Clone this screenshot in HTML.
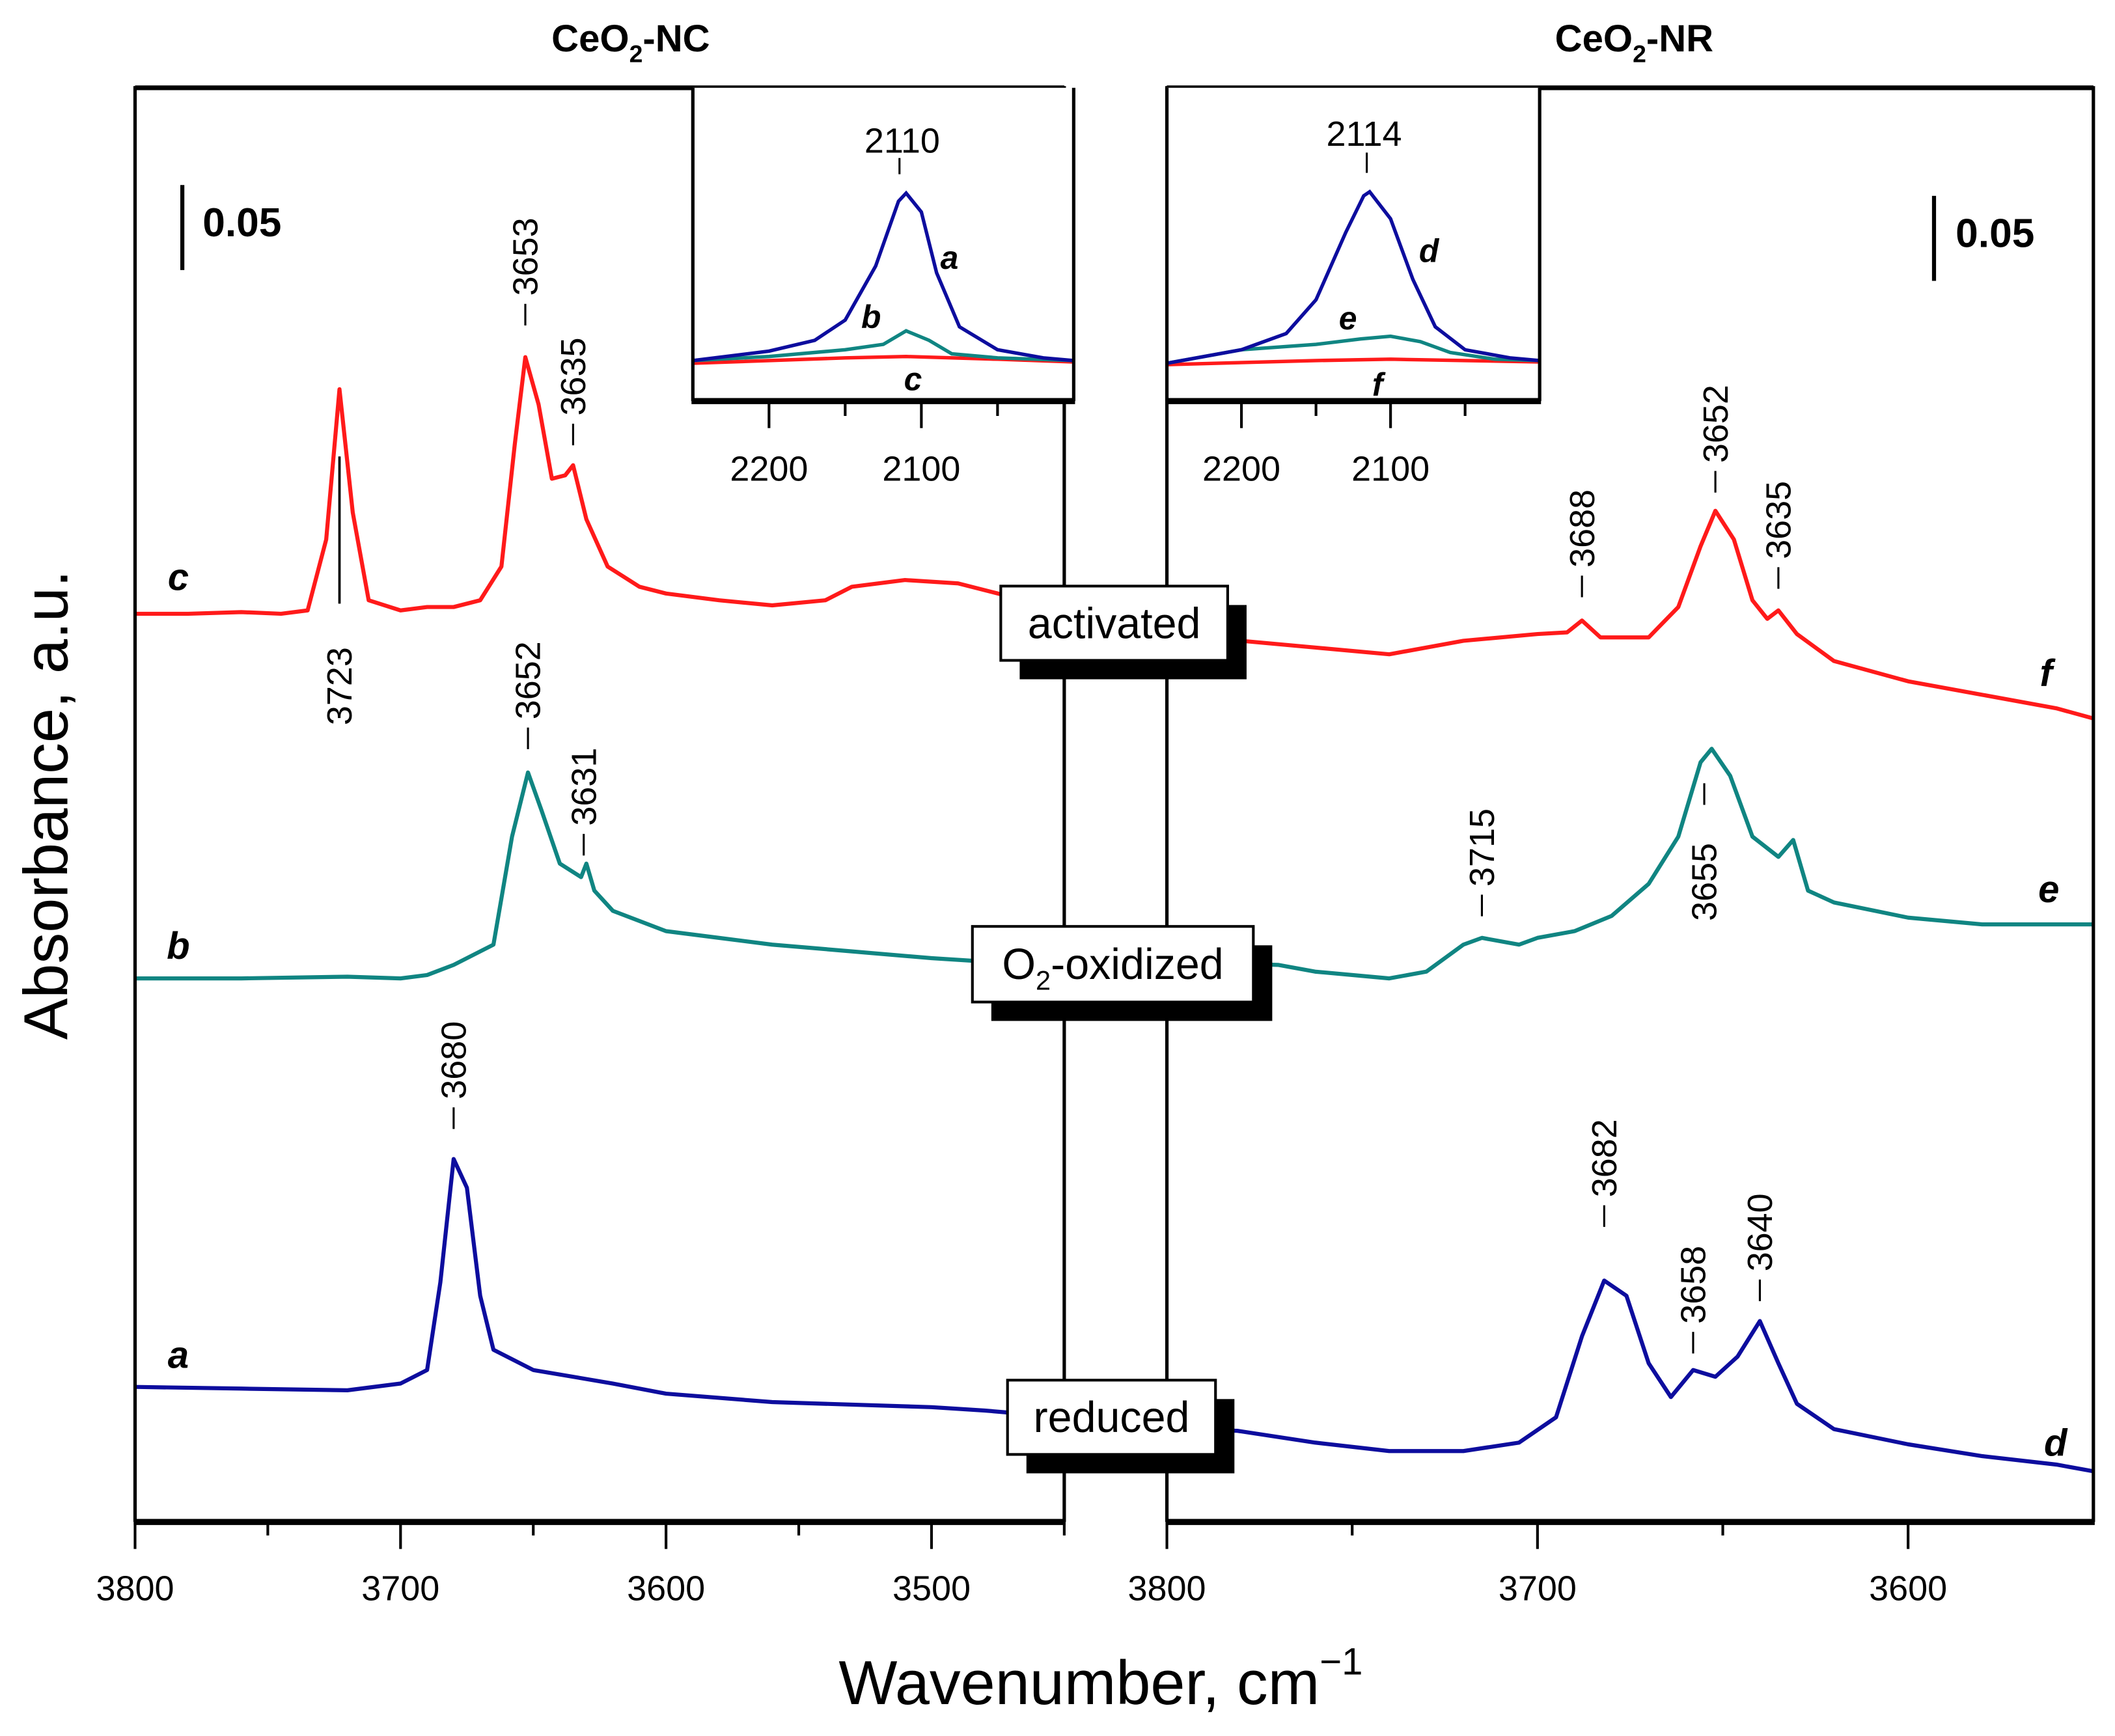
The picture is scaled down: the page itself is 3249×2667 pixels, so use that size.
<!DOCTYPE html>
<html><head><meta charset="utf-8"><style>
html,body{margin:0;padding:0;background:#fff;}
svg{display:block;font-family:"Liberation Sans",Arial,sans-serif;}
</style></head><body>
<svg id="chart" width="3249" height="2667" viewBox="0 0 1566 1285.5" preserveAspectRatio="none" xmlns="http://www.w3.org/2000/svg"></svg>
<script>
// ---- Data (wavenumber, absorbance) ----
const curveC_NC = [[3800,0.538],[3780,0.538],[3760,0.539],[3745,0.538],[3735,0.540],[3728,0.582],[3723,0.671],[3718,0.598],[3712,0.546],[3700,0.540],[3690,0.542],[3680,0.542],[3670,0.546],[3662,0.566],[3657,0.638],[3653,0.690],[3648,0.662],[3643,0.618],[3638,0.620],[3635,0.626],[3630,0.594],[3622,0.566],[3610,0.554],[3600,0.550],[3580,0.546],[3560,0.543],[3540,0.546],[3530,0.554],[3510,0.558],[3490,0.556],[3475,0.550],[3460,0.543],[3450,0.542]];
const curveB_NC = [[3800,0.322],[3760,0.322],[3720,0.323],[3700,0.322],[3690,0.324],[3680,0.330],[3665,0.342],[3658,0.406],[3652,0.444],[3647,0.422],[3640,0.390],[3632,0.382],[3630,0.390],[3627,0.374],[3620,0.362],[3600,0.350],[3580,0.346],[3560,0.342],[3530,0.338],[3500,0.334],[3460,0.330],[3450,0.331]];
const curveA_NC = [[3800,0.080],[3760,0.079],[3720,0.078],[3700,0.082],[3690,0.090],[3685,0.142],[3680,0.215],[3675,0.198],[3670,0.134],[3665,0.102],[3650,0.090],[3620,0.082],[3600,0.076],[3560,0.071],[3500,0.068],[3480,0.066],[3450,0.062]];
const curveF_NR = [[3800,0.530],[3780,0.522],[3760,0.518],[3740,0.514],[3720,0.522],[3700,0.526],[3692,0.527],[3688,0.534],[3683,0.524],[3670,0.524],[3662,0.542],[3656,0.578],[3652,0.599],[3647,0.582],[3642,0.546],[3638,0.535],[3635,0.540],[3630,0.526],[3620,0.510],[3600,0.498],[3580,0.490],[3560,0.482],[3550,0.476]];
const curveE_NR = [[3800,0.332],[3770,0.330],[3760,0.326],[3740,0.322],[3730,0.326],[3720,0.342],[3715,0.346],[3705,0.342],[3700,0.346],[3690,0.350],[3680,0.359],[3670,0.378],[3662,0.406],[3656,0.450],[3653,0.458],[3648,0.442],[3642,0.406],[3635,0.394],[3631,0.404],[3627,0.374],[3620,0.367],[3600,0.358],[3580,0.354],[3560,0.354],[3550,0.354]];
const curveD_NR = [[3800,0.055],[3781,0.054],[3760,0.047],[3740,0.042],[3720,0.042],[3705,0.047],[3695,0.062],[3688,0.110],[3682,0.143],[3676,0.134],[3670,0.094],[3664,0.074],[3658,0.090],[3652,0.086],[3646,0.098],[3640,0.119],[3635,0.094],[3630,0.070],[3620,0.055],[3600,0.046],[3580,0.039],[3560,0.034],[3550,0.030]];
// inset CO band
const insetA = [[2250,30],[2200,37],[2170,45],[2150,60],[2130,100],[2115,148],[2110,154],[2100,140],[2090,95],[2075,55],[2050,38],[2020,32],[2000,30]];
const insetB = [[2250,30],[2200,33],[2150,38],[2125,42],[2110,52],[2095,45],[2080,35],[2050,32],[2000,30]];
const insetC = [[2250,28],[2150,32],[2110,33],[2050,31],[2000,29]];
const insetD = [[2250,28],[2200,38],[2170,50],[2150,75],[2130,125],[2118,152],[2114,155],[2100,135],[2085,90],[2070,55],[2050,38],[2020,32],[2000,30]];
const insetE = [[2250,28],[2200,38],[2150,42],[2120,46],[2100,48],[2080,44],[2060,36],[2030,31],[2000,30]];
const insetF = [[2250,27],[2150,30],[2100,31],[2050,30],[2000,29]];
const ticksLeftMajor = [3800,3700,3600,3500];
const ticksLeftMinor = [3750,3650,3550,3450];
const ticksRightMajor = [3800,3700,3600];
const ticksRightMinor = [3750,3650];
const insetMajor = [2200,2100];
const insetMinor = [2150,2050];
const peakLabelsLeft = [[3653,0.704,'3653'],[3635,0.633,'3635'],[3652,0.453,'3652'],[3631,0.390,'3631'],[3680,0.228,'3680']];
const peakLabelsRight = [[3688,0.543,'3688'],[3652,0.605,'3652'],[3635,0.548,'3635'],[3715,0.354,'3715'],[3682,0.170,'3682'],[3658,0.095,'3658'],[3640,0.126,'3640']];

const NS='http://www.w3.org/2000/svg';
const svg=document.getElementById('chart');
function mk(tag,attrs,parent){const e=document.createElementNS(NS,tag);for(const k in attrs)e.setAttribute(k,attrs[k]);(parent||svg).appendChild(e);return e;}

const TOP=65,BOT=1127;
const yA=a=>BOT-a/0.0008;
const xL=w=>100+(3800-w)*(688/350);
const xR=w=>864+(3800-w)*(686/250);
const xIL=w=>513+(2250-w)*(282/250);
const xIR=w=>864+(2250-w)*(276/250);
const yI=v=>297-v;
function pathOf(arr,fx,fy){return arr.map((p,i)=>(i?'L':'M')+fx(p[0]).toFixed(2)+','+fy(p[1]).toFixed(2)).join(' ');}
function curve(arr,fx,fy,color,name,w){const p=mk('path',{d:pathOf(arr,fx,fy),fill:'none',stroke:color,'stroke-width':w||3,'stroke-linejoin':'round'});return p;}
function txt(x,y,s,size,opts){const t=mk('text',Object.assign({x:x,y:y,'font-size':size},opts||{}));t.textContent=s;return t;}

const RED='#ff1a1a',TEAL='#108582',BLUE='#0d0d9e';
curve(curveC_NC,xL,yA,RED,'curve-c-activated-nc');
curve(curveB_NC,xL,yA,TEAL,'curve-b-oxidized-nc');
curve(curveA_NC,xL,yA,BLUE,'curve-a-reduced-nc');
curve(curveF_NR,xR,yA,RED,'curve-f-activated-nr');
curve(curveE_NR,xR,yA,TEAL,'curve-e-oxidized-nr');
curve(curveD_NR,xR,yA,BLUE,'curve-d-reduced-nr');

const fr=mk('g',{stroke:'#000',fill:'none'});

mk('path',{d:`M100,${BOT} V${TOP} H788 V${BOT}`,'stroke-width':2.5},fr);
mk('path',{d:`M864,${BOT} V${TOP} H1550 V${BOT}`,'stroke-width':2.5},fr);
mk('line',{x1:100,y1:TOP,x2:788,y2:TOP,'stroke-width':3.5},fr);
mk('line',{x1:864,y1:TOP,x2:1550,y2:TOP,'stroke-width':3.5},fr);
mk('line',{x1:99,y1:BOT,x2:789,y2:BOT,'stroke-width':4.5},fr);
mk('line',{x1:863,y1:BOT,x2:1551,y2:BOT,'stroke-width':4.5},fr);
function ticks(major,minor,fx,y0,lmaj,lmin,labelY,size,group){
 major.forEach(w=>{mk('line',{x1:fx(w),y1:y0,x2:fx(w),y2:y0+lmaj,stroke:'#000','stroke-width':2},group);const t=txt(fx(w),labelY,String(w),size,{'text-anchor':'middle'});});
 minor.forEach(w=>mk('line',{x1:fx(w),y1:y0,x2:fx(w),y2:y0+lmin,stroke:'#000','stroke-width':2},group));
}
const tg=mk('g',{});
ticks(ticksLeftMajor,ticksLeftMinor,xL,BOT,20,10,1185,26,tg);
ticks(ticksRightMajor,ticksRightMinor,xR,BOT,20,10,1185,26,tg);

function inset(fx,arrs,x0,x1,name){
 const g=mk('g',{});
 mk('rect',{x:x0,y:TOP,width:x1-x0,height:297-TOP,fill:'#fff',stroke:'none'},g);
 arrs.forEach(a=>{const p=mk('path',{d:pathOf(a[0],fx,yI),fill:'none',stroke:a[1],'stroke-width':2.6},g);});
 mk('path',{d:`M${x0},297 V${TOP} M${x1},${TOP} V297`,stroke:'#000','stroke-width':2.5,fill:'none'},g);
 mk('line',{x1:x0-1,y1:297,x2:x1+1,y2:297,stroke:'#000','stroke-width':4.5},g);
 insetMajor.forEach(w=>{mk('line',{x1:fx(w),y1:297,x2:fx(w),y2:317,stroke:'#000','stroke-width':2},g);const t=txt(fx(w),356,String(w),26,{'text-anchor':'middle'});});
 insetMinor.forEach(w=>mk('line',{x1:fx(w),y1:297,x2:fx(w),y2:308,stroke:'#000','stroke-width':2},g));
}
inset(xIL,[[insetC,RED,'inset-c'],[insetB,TEAL,'inset-b'],[insetA,BLUE,'inset-a']],513,795,'inset-nc');
inset(xIR,[[insetF,RED,'inset-f'],[insetE,TEAL,'inset-e'],[insetD,BLUE,'inset-d']],864,1140,'inset-nr');
txt(668,113,'2110',26,{'text-anchor':'middle'});
mk('line',{x1:666,y1:117,x2:666,y2:129,stroke:'#000','stroke-width':1.5});
txt(1010,108,'2114',26,{'text-anchor':'middle'});
mk('line',{x1:1012,y1:113,x2:1012,y2:128,stroke:'#000','stroke-width':1.5});
[['a',703,199],['b',645,243],['c',676,289],['d',1058,194],['e',998,244],['f',1020,293]].forEach(l=>{const t=txt(l[1],l[2],l[0],24,{'font-weight':'bold','font-style':'italic','text-anchor':'middle'});});

[['c',132,437],['b',132,710],['a',132,1013],['f',1515,508],['e',1517,668],['d',1522,1078]].forEach(l=>{const t=txt(l[1],l[2],l[0],28,{'font-weight':'bold','font-style':'italic','text-anchor':'middle'});});

function peak(fx,w,a,s){const x=fx(w),y=yA(a)-6;
 mk('line',{x1:x,y1:y,x2:x,y2:y-16,stroke:'#000','stroke-width':1.5});
 const t=txt(0,0,s,26,{transform:`translate(${x+9},${y-22}) rotate(-90)`});}
peakLabelsLeft.forEach(p=>peak(xL,p[0],p[1],p[2]));
peakLabelsRight.forEach(p=>peak(xR,p[0],p[1],p[2]));
mk('line',{x1:xL(3723),y1:338,x2:xL(3723),y2:447,stroke:'#000','stroke-width':1.8});
{const t=txt(0,0,'3723',26,{transform:`translate(${xL(3723)+9},537) rotate(-90)`});}
{const x=xR(3655);mk('line',{x1:x,y1:580,x2:x,y2:596,stroke:'#000','stroke-width':1.5});
 const t=txt(0,0,'3655',26,{transform:`translate(${x+9},682) rotate(-90)`});}

function box(x,y,w,h,label,name,sub){
 const g=mk('g',{});
 mk('rect',{x:x+14,y:y+14,width:w,height:h,fill:'#000'},g);
 mk('rect',{x:x,y:y,width:w,height:h,fill:'#fff',stroke:'#000','stroke-width':2},g);
 const t=mk('text',{x:x+w/2,y:y+h/2+11,'font-size':32,'text-anchor':'middle'},g);
 if(sub){t.appendChild(document.createTextNode('O'));const s=mk('tspan',{'font-size':20,dy:8},t);s.textContent='2';const r=mk('tspan',{dy:-8},t);r.textContent='-oxidized';}
 else t.textContent=label;
}
box(741,434,168,55,'activated','activated-label');
box(720,686,208,56,'','oxidized-label',true);
box(746,1022,154,55,'reduced','reduced-label');

mk('line',{x1:135,y1:137,x2:135,y2:200,stroke:'#000','stroke-width':3});
txt(150,175,'0.05',30,{'font-weight':'bold'});
mk('line',{x1:1432,y1:145,x2:1432,y2:208,stroke:'#000','stroke-width':3});
txt(1448,183,'0.05',30,{'font-weight':'bold'});

{const t=mk('text',{x:467,y:38,'font-size':28,'font-weight':'bold','text-anchor':'middle'});
 t.appendChild(document.createTextNode('CeO'));const s=mk('tspan',{'font-size':18,dy:8},t);s.textContent='2';const r=mk('tspan',{dy:-8},t);r.textContent='-NC';}
{const t=mk('text',{x:1210,y:38,'font-size':28,'font-weight':'bold','text-anchor':'middle'});
 t.appendChild(document.createTextNode('CeO'));const s=mk('tspan',{'font-size':18,dy:8},t);s.textContent='2';const r=mk('tspan',{dy:-8},t);r.textContent='-NR';}
{const t=mk('text',{x:815,y:1262,'font-size':46,'text-anchor':'middle'});
 t.appendChild(document.createTextNode('Wavenumber, cm'));const s=mk('tspan',{'font-size':28,dy:-22},t);s.textContent='−1';}
{const t=txt(0,0,'Absorbance, a.u.',46,{transform:'translate(50,596) rotate(-90)','text-anchor':'middle'});}
</script>
</body></html>
